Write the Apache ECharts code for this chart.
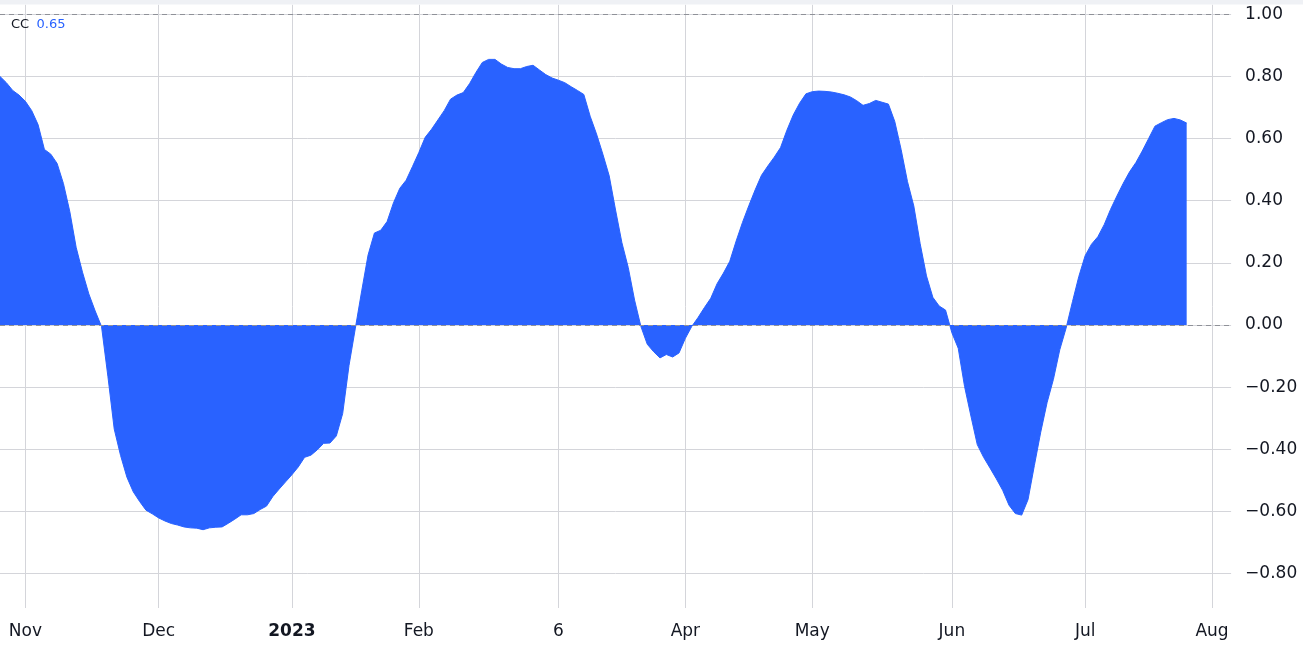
<!DOCTYPE html>
<html>
<head>
<meta charset="utf-8">
<script src="https://cdn.jsdelivr.net/npm/echarts@6/dist/echarts.min.js"></script>
<style>
html,body{margin:0;padding:0;background:#fff;}
#chart{width:1303px;height:645px;}
</style>
</head>
<body>
<div id="chart"></div>
<script>
// Trading-day calendar (market holidays removed)
const startDate = '2022-10-26';
const endDate = '2023-08-04';
const holidays = ['2022-11-24','2022-12-26','2023-01-02','2023-01-16','2023-02-20','2023-05-29','2023-06-19','2023-07-04'];

// Tick labels on the time axis
const tickDates = ['2022-11-01','2022-12-01','2023-01-03','2023-02-01','2023-03-06','2023-04-03','2023-05-01','2023-06-01','2023-07-03','2023-08-01'];
const tickLabels = ['Nov','Dec','2023','Feb','6','Apr','May','Jun','Jul','Aug'];

// Correlation coefficient values, one per trading day from 2022-10-26 to 2023-07-26
const ccValues = [
 0.80, 0.78, 0.755, 0.74, 0.72, 0.69, 0.645, 0.565, 0.55, 0.52,
 0.455, 0.365, 0.25, 0.17, 0.10, 0.045, -0.005, -0.165, -0.335, -0.42,
 -0.49, -0.537, -0.568, -0.596, -0.608, -0.621, -0.631, -0.639, -0.644, -0.65,
 -0.653, -0.654, -0.659, -0.653, -0.651, -0.65, -0.638, -0.625, -0.611, -0.611,
 -0.607, -0.594, -0.583, -0.552, -0.528, -0.505, -0.482, -0.457, -0.426, -0.419,
 -0.402, -0.381, -0.38, -0.357, -0.285, -0.13, -0.01, 0.11, 0.225, 0.296,
 0.305, 0.333, 0.393, 0.44, 0.466, 0.51, 0.555, 0.604, 0.63, 0.66,
 0.69, 0.727, 0.74, 0.748, 0.777, 0.813, 0.845, 0.855, 0.855, 0.84,
 0.829, 0.825, 0.825, 0.832, 0.836, 0.821, 0.806, 0.795, 0.788, 0.78,
 0.767, 0.755, 0.742, 0.672, 0.615, 0.55, 0.48, 0.37, 0.265, 0.185,
 0.08, -0.005, -0.062, -0.086, -0.106, -0.095, -0.103, -0.09, -0.043, -0.005,
 0.024, 0.056, 0.086, 0.133, 0.167, 0.205, 0.27, 0.33, 0.384, 0.435,
 0.482, 0.512, 0.54, 0.571, 0.627, 0.676, 0.714, 0.744, 0.751, 0.753,
 0.752, 0.75, 0.746, 0.741, 0.734, 0.722, 0.707, 0.713, 0.723, 0.717,
 0.711, 0.655, 0.565, 0.462, 0.383, 0.262, 0.158, 0.089, 0.061, 0.048,
 -0.025, -0.075, -0.198, -0.293, -0.385, -0.426, -0.46, -0.495, -0.532, -0.58,
 -0.607, -0.612, -0.562, -0.452, -0.345, -0.25, -0.175, -0.08, -0.01, 0.075,
 0.156, 0.223, 0.26, 0.284, 0.323, 0.372, 0.415, 0.456, 0.493, 0.523,
 0.56, 0.60, 0.64, 0.651, 0.661, 0.665, 0.66, 0.65
];

function buildTradingDays(s, e, hol) {
  const out = [];
  const d = new Date(s + 'T00:00:00Z');
  const end = new Date(e + 'T00:00:00Z');
  while (d <= end) {
    const wd = d.getUTCDay();
    const iso = d.toISOString().slice(0, 10);
    if (wd !== 0 && wd !== 6 && hol.indexOf(iso) < 0) out.push(iso);
    d.setUTCDate(d.getUTCDate() + 1);
  }
  return out;
}
const categories = buildTradingDays(startDate, endDate, holidays);

const FONT = 'DejaVu Sans';
const TEXT = '#131722';
const BLUE = '#2962ff';
const isTick = (i, v) => tickDates.indexOf(v) >= 0;
const lastVal = ccValues[ccValues.length - 1];

const chart = echarts.init(document.getElementById('chart'), null, {renderer: 'canvas'});
chart.setOption({
  animation: false,
  backgroundColor: '#ffffff',
  grid: {left: -1.41, right: 71.9, top: 4.7, bottom: 37, containLabel: false},
  graphic: [
    {type: 'rect', left: 0, top: 0, shape: {width: 1303, height: 4.5}, style: {fill: '#eff1f5'}, silent: true, z: 100},
    {type: 'text', left: 11, top: 18.5, style: {text: 'CC', fontSize: 13, fontFamily: FONT, fill: TEXT}, z: 100},
    {type: 'text', left: 36.5, top: 18.5, style: {text: lastVal.toFixed(2), fontSize: 13, fontFamily: FONT, fill: BLUE}, z: 100}
  ],
  xAxis: {
    type: 'category',
    data: categories,
    boundaryGap: false,
    axisLine: {show: false},
    axisTick: {show: false},
    axisLabel: {
      interval: isTick,
      margin: 15,
      fontFamily: FONT,
      fontSize: 17,
      color: TEXT,
      formatter: function (v) {
        const k = tickDates.indexOf(v);
        const t = k >= 0 ? tickLabels[k] : '';
        return k === 2 ? '{b|' + t + '}' : t;
      },
      rich: {b: {fontFamily: FONT, fontSize: 17, fontWeight: 'bold', color: TEXT}}
    },
    splitLine: {show: true, interval: isTick, lineStyle: {color: '#d4d5da', width: 1}}
  },
  yAxis: {
    type: 'value',
    position: 'right',
    min: -0.911,
    max: 1.031,
    splitNumber: 10,
    axisLine: {show: false},
    axisTick: {show: false},
    axisLabel: {
      margin: 14,
      fontFamily: FONT,
      fontSize: 17,
      color: TEXT,
      showMinLabel: false,
      showMaxLabel: false,
      formatter: function (v) {
        return (v < -1e-9 ? '\u2212' : '') + Math.abs(v).toFixed(2);
      }
    },
    splitLine: {show: true, showMinLine: false, showMaxLine: false, lineStyle: {color: '#d4d5da', width: 1}}
  },
  series: [{
    type: 'line',
    data: ccValues,
    symbol: 'none',
    smooth: false,
    lineStyle: {color: BLUE, width: 1},
    itemStyle: {color: BLUE},
    areaStyle: {color: BLUE, opacity: 1, origin: 0},
    markLine: {
      silent: true,
      symbol: 'none',
      label: {show: false},
      lineStyle: {color: '#8f9198', type: [5, 4], width: 1},
      data: [{yAxis: 1}, {yAxis: 0}]
    }
  }]
});
</script>
</body>
</html>
